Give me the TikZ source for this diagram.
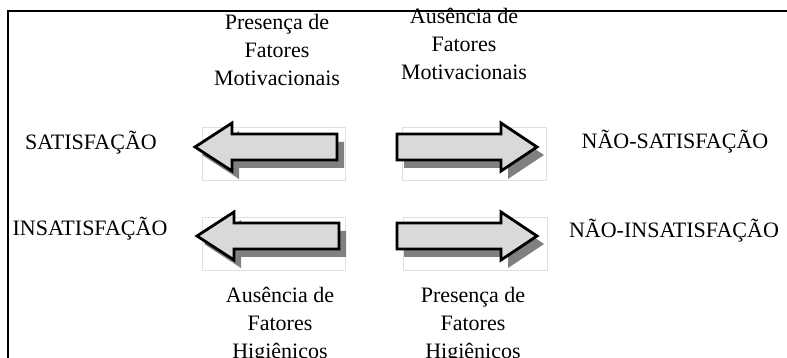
\documentclass[tikz,border=0pt]{standalone}
\usepackage{fontspec}
\setmainfont{Liberation Serif}
\usetikzlibrary{shadows}

\begin{document}
\begin{tikzpicture}[x=1pt,y=1pt,
  seta/.style={draw=black,line width=2.8pt,fill=black!15,line join=miter,
    drop shadow={shadow xshift=7pt,shadow yshift=-8pt,fill=black!50,opacity=1}},
  caixa/.style={draw=black!12,line width=0.7pt},
  rotulo/.style={font=\fontsize{22}{28}\selectfont,inner sep=0pt,align=center}]
  \useasboundingbox (0,0) rectangle (787,358);
  % moldura
  \draw[line width=2pt] (787,347) -- (8,347) -- (8,0);
  % caixas claras
  \draw[caixa] (202,178) rectangle (345,231);
  \draw[caixa] (402,178) rectangle (546,231);
  \draw[caixa] (202,88) rectangle (345,141);
  \draw[caixa] (403,88) rectangle (547,141);
  % setas
  \draw[seta] (195,211) -- ++(37,24) -- ++(0,-11) -- ++(105,0) -- ++(0,-26) -- ++(-105,0) -- ++(0,-11) -- cycle;
  \draw[seta] (537,211) -- ++(-36,24) -- ++(0,-11) -- ++(-104,0) -- ++(0,-26) -- ++(104,0) -- ++(0,-11) -- cycle;
  \draw[seta] (197,122) -- ++(37,24) -- ++(0,-11) -- ++(105,0) -- ++(0,-26) -- ++(-105,0) -- ++(0,-11) -- cycle;
  \draw[seta] (537,122) -- ++(-36,24) -- ++(0,-11) -- ++(-104,0) -- ++(0,-26) -- ++(104,0) -- ++(0,-11) -- cycle;
  % rotulos laterais
  \node[rotulo,anchor=base] (sat) at (91,208) {SATISFAÇÃO};
  \node[rotulo,anchor=base] (insat) at (90,122) {INSATISFAÇÃO};
  \node[rotulo,anchor=base] (naosat) at (675,209) {NÃO-SATISFAÇÃO};
  \node[rotulo,anchor=base] (naoinsat) at (674,120) {NÃO-INSATISFAÇÃO};
  % fatores
  \node[rotulo,anchor=north] (presmot) at (277,344) {Presença de\\Fatores\\Motivacionais};
  \node[rotulo,anchor=north] (ausmot) at (464,350) {Ausência de\\Fatores\\Motivacionais};
  \node[rotulo,anchor=north] (aushig) at (280,71) {Ausência de\\Fatores\\Higiênicos};
  \node[rotulo,anchor=north] (preshig) at (473,71) {Presença de\\Fatores\\Higiênicos};
\end{tikzpicture}
\end{document}
